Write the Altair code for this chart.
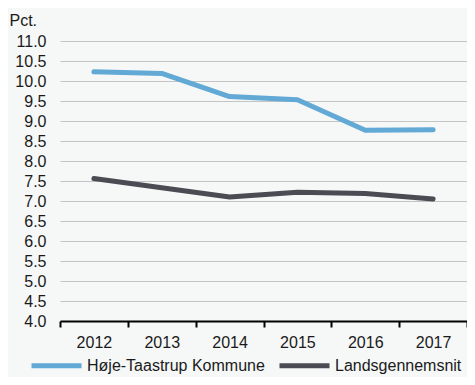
import altair as alt
import pandas as pd

years = ["2012", "2013", "2014", "2015", "2016", "2017"]
hoeje = [10.23, 10.19, 9.61, 9.53, 8.77, 8.78]
lands = [7.56, 7.33, 7.10, 7.22, 7.19, 7.05]
series = ["Høje-Taastrup Kommune", "Landsgennemsnit"]
colors = ["#62a9d6", "#4b4b53"]

rows = []
for y, v in zip(years, hoeje):
    rows.append({"year": y, "value": v, "series": series[0]})
for y, v in zip(years, lands):
    rows.append({"year": y, "value": v, "series": series[1]})
df = pd.DataFrame(rows)

font = "Liberation Sans"
fs = 16

chart = alt.Chart(df).mark_line(strokeWidth=5, strokeCap="round", strokeJoin="round").encode(
    x=alt.X("year:N", sort=years, scale=alt.Scale(paddingInner=0, paddingOuter=0),
            axis=alt.Axis(title=None, labelAngle=0, domainColor="#000000", domainWidth=2,
                          tickColor="#000000", tickWidth=2, tickSize=6, tickBand="extent",
                          labelPadding=7, labelFontSize=fs, labelColor="#1a1a1a", labelFont=font,
                          grid=False)),
    y=alt.Y("value:Q", scale=alt.Scale(domain=[4, 11], nice=False, zero=False),
            axis=alt.Axis(title="Pct.", titleAngle=0, titleX=-51, titleY=-16, titleAlign="left",
                          titleBaseline="alphabetic", titleFontSize=fs, titleFontWeight="normal",
                          titleFont=font, titleColor="#1a1a1a",
                          values=[4 + 0.5 * i for i in range(15)], format=".1f",
                          labelFontSize=fs, labelColor="#1a1a1a", labelFont=font, labelPadding=14,
                          domain=False, ticks=False, gridColor="#c4c4c4", gridWidth=1.2)),
    color=alt.Color("series:N", scale=alt.Scale(domain=series, range=colors),
                    legend=alt.Legend(title=None, orient="none", legendX=-31, legendY=297,
                                      direction="horizontal", symbolType="stroke",
                                      symbolSize=2500, symbolStrokeWidth=5, labelFontSize=fs,
                                      labelFont=font, labelColor="#1a1a1a", labelOffset=3,
                                      labelLimit=0, columnPadding=4)),
).properties(
    width=407, height=280,
    autosize=alt.AutoSizeParams(type="none"),
    padding={"left": 52, "top": 33, "right": 0, "bottom": 56},
    background="#f6f7f7",
).configure_view(stroke=None)

chart.save("out.html", embed_options={"renderer": "svg", "actions": False})
